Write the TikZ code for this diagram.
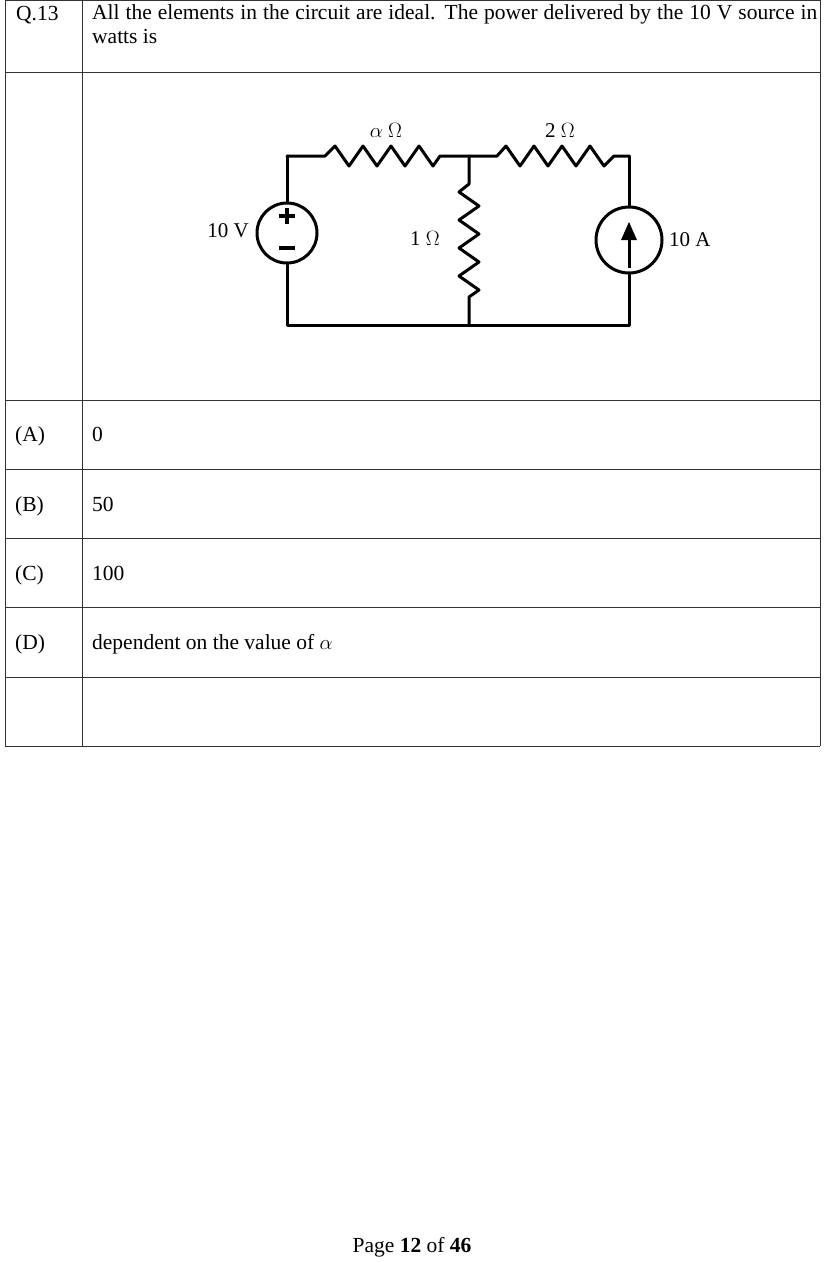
\documentclass[tikz,border=0pt]{standalone}
\usepackage{fontspec}
\setmainfont{Liberation Serif}
\begin{document}
\begin{tikzpicture}[x=1pt,y=-1pt,
  txt/.style={font=\fontsize{21.5}{24}\selectfont,inner sep=0pt},
  lab/.style={font=\fontsize{21}{24}\selectfont,inner sep=0pt},
  wire/.style={line width=3pt,line join=round,line cap=round},
  grid/.style={line width=0.6pt,draw=black!80}]
\useasboundingbox (0,0) rectangle (830,1262);
% table
\draw[grid] (5,0) -- (5,746) (82,0) -- (82,746) (820,0) -- (820,746);
\foreach \y in {0,72,400,469,538,607,677,746} \draw[grid] (5,\y) -- (820,\y);
\node[txt,anchor=base west] (q) at (16,20) {Q.13};
\node[txt,anchor=north west,text width=725pt,align=justify] (qt) at (92,4) {All the elements in the circuit are ideal. The power delivered by the 10 V source in watts is};
\node[txt,anchor=base west] (a) at (15,441) {(A)};
\node[txt,anchor=base west] (a1) at (92,441) {0};
\node[txt,anchor=base west] (b) at (15,511) {(B)};
\node[txt,anchor=base west] (b1) at (92,511) {50};
\node[txt,anchor=base west] (c) at (15,580) {(C)};
\node[txt,anchor=base west] (c1) at (92,580) {100};
\node[txt,anchor=base west] (d) at (15,649) {(D)};
\node[txt,anchor=base west] (d1) at (92,649) {dependent on the value of $\alpha$};
\node[txt,anchor=base] (pg) at (412,1252) {Page \textbf{12} of \textbf{46}};
% circuit
\coordinate (tl) at (287,156); \coordinate (tm) at (469,156); \coordinate (tr) at (629,156);
\coordinate (bl) at (287,325); \coordinate (bm) at (469,325); \coordinate (br) at (629,325);
\node[circle,draw,line width=3pt,minimum size=60pt,inner sep=0pt] (vs) at (287,233) {};
\node[circle,draw,line width=3pt,minimum size=66pt,inner sep=0pt] (cs) at (629,240) {};
\draw[wire] (tl) -- (vs.north) (vs.south) -- (bl) -- (bm) -- (br) -- (cs.south) (cs.north) -- (tr);
\draw[wire] (tl) -- (325,156) -- (335,146) -- (349,166) -- (363,146) -- (377,166) -- (391,146) -- (405,166) -- (419,146) -- (433,166) -- (440,156) -- (tm);
\draw[wire] (tm) -- (497,156) -- (506,146) -- (520,166) -- (534,146) -- (548,166) -- (562,146) -- (576,166) -- (590,146) -- (604,166) -- (614,156) -- (tr);
\draw[wire] (tm) -- (469,184) -- (459,192) -- (479,206) -- (459,220) -- (479,234) -- (459,248) -- (479,262) -- (459,276) -- (479,290) -- (469,297) -- (bm);
\draw[line width=3.5pt] (279,216) -- (295,216) (287,208) -- (287,224) (279,248) -- (295,248);
\draw[line width=3pt] (629,268) -- (629,236);
\fill (629,222) -- (621,240) -- (637,240) -- cycle;
\node[lab,anchor=east] (lv) at (249,231) {10 V};
\node[lab,anchor=west] (la) at (669,240) {10 A};
\node[lab] (l1) at (425,238) {1 $\Omega$};
\node[lab] (lal) at (386,130) {$\alpha$ $\Omega$};
\node[lab] (l2) at (560,130) {2 $\Omega$};
\end{tikzpicture}
\end{document}
